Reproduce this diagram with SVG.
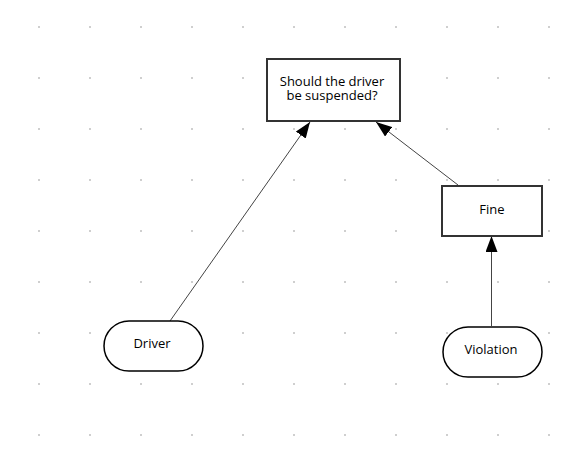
<svg xmlns="http://www.w3.org/2000/svg" width="582" height="451" viewBox="0 0 582 451">
<defs>
<pattern id="grid" x="38" y="26" width="51" height="51" patternUnits="userSpaceOnUse">
<rect x="0" y="0" width="2" height="2" fill="#cfcfcf"/>
</pattern>
<marker id="arr" viewBox="0 0 16 12" refX="16" refY="6" markerWidth="16" markerHeight="12" markerUnits="userSpaceOnUse" orient="auto">
<path d="M0,0 L16,6 L0,12 Z" fill="#000"/>
</marker>
<style>
.box{fill:#fff;stroke:#333;stroke-width:2}
.term{fill:#fff;stroke:#000;stroke-width:1.5}
.lbl{font-family:"Open Sans","Noto Sans",sans-serif;font-size:13px;fill:#000;text-anchor:middle}
.edge{stroke:#444;stroke-width:1;fill:none;marker-end:url(#arr)}
</style>
</defs>
<rect width="582" height="451" fill="#fff"/>
<rect width="582" height="451" fill="url(#grid)"/>
<g id="connectors">
<path class="edge" d="M170,321 L310,122"/>
<path class="edge" d="M458,185 L376,122"/>
<path class="edge" d="M491.5,326 L491.5,236"/>
</g>
<g id="suspended">
<rect class="box" x="267" y="59" width="133" height="62"/>
<text class="lbl" x="332" y="86"><tspan x="332">Should the driver</tspan><tspan x="332" dy="14">be suspended?</tspan></text>
</g>
<g id="fine">
<rect class="box" x="442" y="186" width="100" height="50"/>
<text class="lbl" x="492" y="214">Fine</text>
</g>
<g id="driver">
<rect class="term" x="104" y="321" width="99" height="50" rx="25" ry="25"/>
<text class="lbl" x="152" y="348">Driver</text>
</g>
<g id="violation">
<rect class="term" x="443" y="327" width="99" height="50" rx="25" ry="25"/>
<text class="lbl" x="491" y="354">Violation</text>
</g>
</svg>
